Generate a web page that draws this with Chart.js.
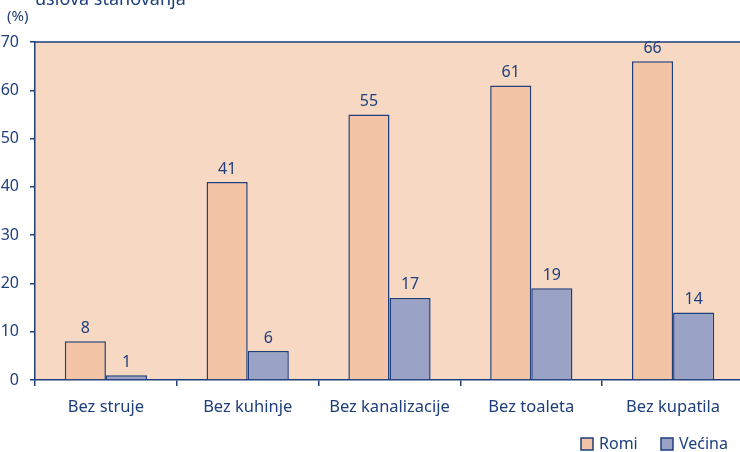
<!DOCTYPE html>
<html>
<head>
<meta charset="utf-8">
<script src="https://cdn.jsdelivr.net/npm/chart.js@4/dist/chart.umd.min.js"></script>
<style>
  html, body { margin: 0; padding: 0; background: #fff; overflow: hidden; }
  #wrap { width: 750px; height: 452px; }
</style>
</head>
<body>
<div id="wrap"><canvas id="chart" width="750" height="452"></canvas></div>
<script>
// data
const categories = ['Bez struje', 'Bez kuhinje', 'Bez kanalizacije', 'Bez toaleta', 'Bez kupatila'];
const romi = [8, 41, 55, 61, 66];
const vecina = [1, 6, 17, 19, 14];
const yTicks = [0, 10, 20, 30, 40, 50, 60, 70];

const navy = '#1E3F7B';
const plotBg = '#F6D8C3';
const romiColor = '#F3C4A5';
const vecinaColor = '#9AA3C6';
const font = "'Noto Sans', 'Open Sans', sans-serif";

// plot background, top frame line, title pieces, value labels and legend
const extras = {
  id: 'extras',
  beforeDraw(chart) {
    const { ctx, chartArea: a } = chart;
    ctx.save();
    ctx.fillStyle = plotBg;
    ctx.fillRect(a.left, a.top, a.right - a.left, a.bottom - a.top);
    ctx.strokeStyle = navy;
    ctx.lineWidth = 1.5;
    ctx.beginPath();
    ctx.moveTo(a.left, a.top);
    ctx.lineTo(a.right, a.top);
    ctx.stroke();
    ctx.restore();
  },
  afterDraw(chart) {
    const { ctx } = chart;
    ctx.save();
    ctx.fillStyle = navy;
    ctx.font = '18px ' + font;
    ctx.textBaseline = 'alphabetic';
    ctx.textAlign = 'left';
    ctx.fillText('uslova stanovanja', 35, 5);
    ctx.font = '15px ' + font;
    ctx.textBaseline = 'middle';
    ctx.fillText('(%)', 7, 17);

    // value labels
    ctx.font = '16px ' + font;
    ctx.textAlign = 'center';
    ctx.textBaseline = 'bottom';
    chart.data.datasets.forEach((ds, i) => {
      chart.getDatasetMeta(i).data.forEach((bar, j) => {
        ctx.fillText(String(ds.data[j]), bar.x, bar.y - 5);
      });
    });

    // legend
    const items = [['Romi', romiColor, 581], ['Većina', vecinaColor, 661]];
    ctx.textAlign = 'left';
    ctx.textBaseline = 'middle';
    ctx.lineWidth = 1.5;
    items.forEach(([label, color, x]) => {
      ctx.fillStyle = color;
      ctx.fillRect(x, 438, 12, 12);
      ctx.strokeStyle = navy;
      ctx.strokeRect(x, 438, 12, 12);
      ctx.fillStyle = navy;
      ctx.fillText(label, x + 18, 444);
    });
    ctx.restore();
  }
};

new Chart(document.getElementById('chart'), {
  type: 'bar',
  data: {
    labels: categories,
    datasets: [
      { label: 'Romi', data: romi, backgroundColor: romiColor, borderColor: navy, borderWidth: 1.5, borderSkipped: 'bottom' },
      { label: 'Većina', data: vecina, backgroundColor: vecinaColor, borderColor: navy, borderWidth: 1.5, borderSkipped: 'bottom' }
    ]
  },
  options: {
    responsive: false,
    animation: false,
    layout: { padding: { top: 42, right: 6, left: 0, bottom: 0 } },
    datasets: { bar: { categoryPercentage: 0.58, barPercentage: 1.0 } },
    plugins: { legend: { display: false }, tooltip: { enabled: false } },
    scales: {
      x: {
        offset: true,
        grid: { display: true, offset: true, drawOnChartArea: false, tickLength: 6, color: navy, lineWidth: 1.5 },
        border: { color: navy, width: 1.5 },
        ticks: { color: navy, font: { family: font, size: 16.5 }, padding: 11, maxRotation: 0 },
        afterFit(scale) { scale.height = 72; }
      },
      y: {
        min: 0,
        max: 70,
        afterBuildTicks(scale) { scale.ticks = yTicks.map(v => ({ value: v })); },
        grid: { display: true, drawOnChartArea: false, tickLength: 5, color: navy, lineWidth: 1.5 },
        border: { color: navy, width: 1.5 },
        ticks: { color: navy, font: { family: font, size: 16 }, padding: 11 },
        afterFit(scale) { scale.width = 35; }
      }
    }
  },
  plugins: [extras]
});
</script>
</body>
</html>
